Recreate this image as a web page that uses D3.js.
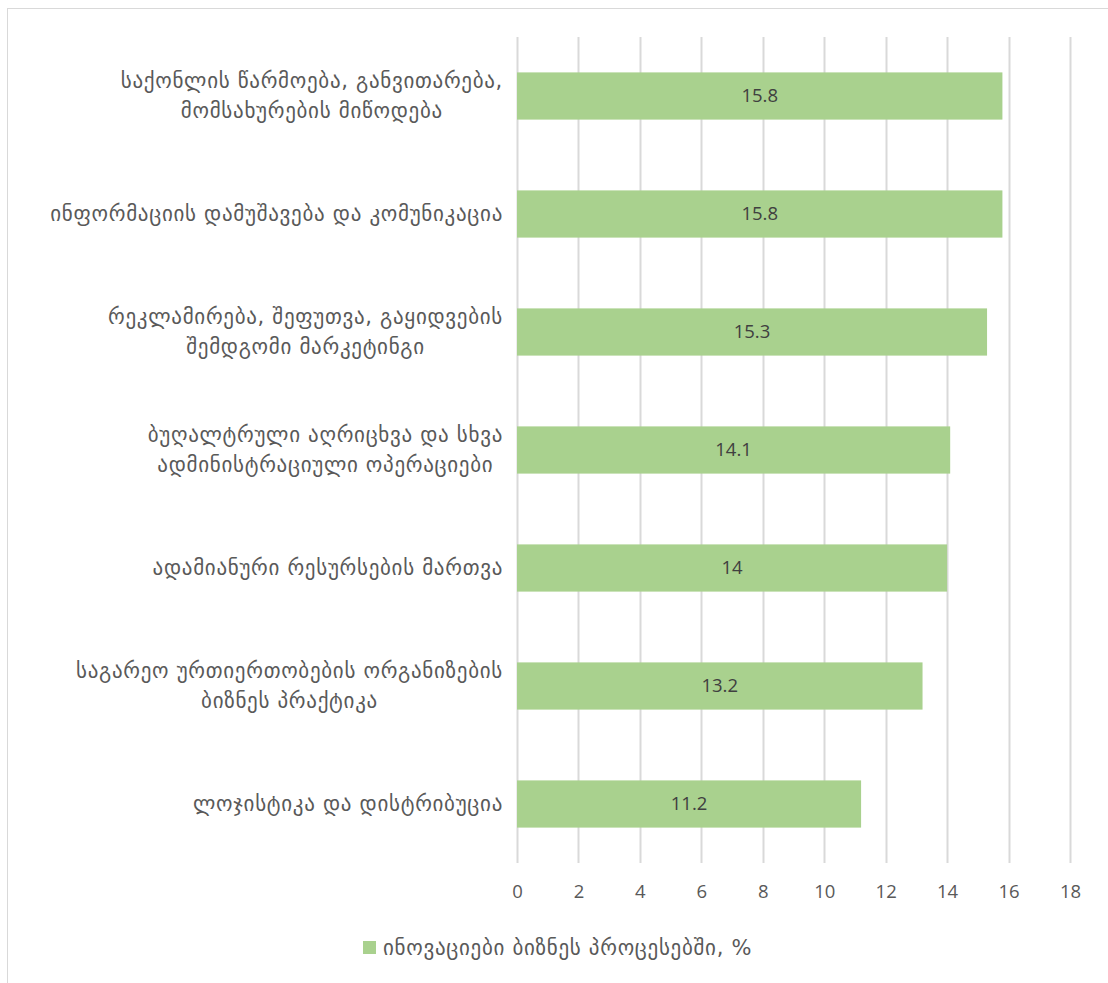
<!DOCTYPE html>
<meta charset="utf-8">
<title>ინოვაციები ბიზნეს პროცესებში</title>
<style>
body { margin: 0; background: #fff; }
text { font-family: "Open Sans", "DejaVu Sans", sans-serif; }
.cat { font-family: "DejaVu Sans", sans-serif; fill: #595959; font-size: 21px; letter-spacing: 0.7px; }
</style>
<script src="https://d3js.org/d3.v7.min.js"></script>
<body>
<script>
// categories, top to bottom (line breaks as in the picture)
var categories = [
  "საქონლის წარმოება, განვითარება,\nმომსახურების მიწოდება",
  "ინფორმაციის დამუშავება და კომუნიკაცია",
  "რეკლამირება, შეფუთვა, გაყიდვების\nშემდგომი მარკეტინგი",
  "ბუღალტრული აღრიცხვა და სხვა\nადმინისტრაციული ოპერაციები",
  "ადამიანური რესურსების მართვა",
  "საგარეო ურთიერთობების ორგანიზების\nბიზნეს პრაქტიკა",
  "ლოჯისტიკა და დისტრიბუცია"
];
var values = [15.8, 15.8, 15.3, 14.1, 14, 13.2, 11.2];
var ticks = [0, 2, 4, 6, 8, 10, 12, 14, 16, 18];
var seriesName = "ინოვაციები ბიზნეს პროცესებში, %";

var width = 1108, height = 983;
var svg = d3.select("body").append("svg")
    .attr("width", width)
    .attr("height", height);

// chart border
svg.append("rect")
    .attr("x", 7.5).attr("y", 8.5)
    .attr("width", width + 10).attr("height", height + 10)
    .attr("fill", "#fff")
    .attr("stroke", "#d9d9d9");

var x = d3.scaleLinear().domain([0, 18]).range([517, 1070]);
var y = d3.scaleBand().domain(categories).range([37, 863]).paddingInner(0.6).paddingOuter(0.3);

// gridlines
svg.append("g").selectAll("line")
    .data(ticks)
  .enter().append("line")
    .attr("x1", function(d) { return Math.round(x(d)) + 0.5; })
    .attr("x2", function(d) { return Math.round(x(d)) + 0.5; })
    .attr("y1", 37).attr("y2", 863)
    .attr("stroke", "#d9d9d9")
    .attr("stroke-width", 2);

// bars
svg.append("g").selectAll("rect")
    .data(values)
  .enter().append("rect")
    .attr("x", x(0))
    .attr("y", function(d, i) { return y(categories[i]); })
    .attr("width", function(d) { return x(d) - x(0); })
    .attr("height", y.bandwidth())
    .attr("fill", "#a9d18e");

// data labels
svg.append("g").selectAll("text")
    .data(values)
  .enter().append("text")
    .attr("x", function(d) { return (x(0) + x(d)) / 2; })
    .attr("y", function(d, i) { return y(categories[i]) + y.bandwidth() / 2; })
    .attr("dy", "0.35em")
    .attr("text-anchor", "middle")
    .attr("font-size", 18.5)
    .attr("fill", "#404040")
    .text(function(d) { return d; });

// x axis tick labels
var xAxis = d3.axisBottom(x).tickValues(ticks).tickSize(0).tickPadding(0);
var gx = svg.append("g")
    .attr("transform", "translate(0, 885)")
    .call(xAxis);
gx.select(".domain").remove();
gx.selectAll("text")
    .attr("font-family", "\"Open Sans\", sans-serif")
    .attr("font-size", 18.5)
    .attr("fill", "#595959");

// category labels: block right aligned, lines centred in block
var labelRight = 503;
var lineH = 30;
categories.forEach(function(c, i) {
  var lines = c.split("\n");
  var g = svg.append("g");
  var t = g.selectAll("text")
      .data(lines)
    .enter().append("text")
      .attr("class", "cat")
      .attr("text-anchor", "middle")
      .attr("dy", "0.35em")
      .text(function(d) { return d; });
  var maxW = d3.max(t.nodes(), function(n) { return n.getComputedTextLength(); });
  var cy = y(c) + y.bandwidth() / 2;
  t.attr("x", labelRight - maxW / 2)
   .attr("y", function(d, j) { return cy + (j - (lines.length - 1) / 2) * lineH; });
});

// legend
var lg = svg.append("g").attr("transform", "translate(363, 941)");
lg.append("rect")
    .attr("width", 13).attr("height", 13)
    .attr("fill", "#a9d18e");
lg.append("text")
    .attr("class", "cat")
    .attr("x", 20).attr("y", 7)
    .attr("dy", "0.35em")
    .text(seriesName);
</script>
